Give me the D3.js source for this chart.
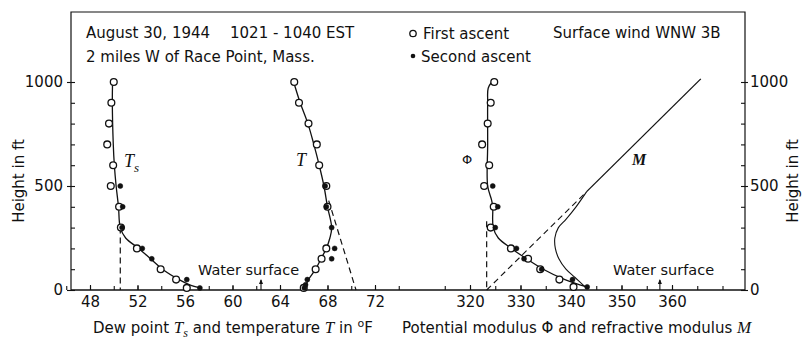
<!DOCTYPE html>
<html><head><meta charset="utf-8">
<script src="https://cdn.jsdelivr.net/npm/d3@7"></script>
<style>
body{margin:0;background:#fff;}
svg text{font-family:"DejaVu Sans",sans-serif;fill:#111;}
.it{font-family:"Liberation Serif",serif;font-style:italic;}
</style></head><body>
<svg id="c" width="802" height="339"></svg>
<script>
// ---- data ----
const heightTicks = [0, 500, 1000];
const heightMinor = [0,100,200,300,400,500,600,700,800,900,1000];
const tempTicks = [48, 52, 56, 60, 64, 68, 72];
const tempMinor = [46,48,50,52,54,56,58,60,62,64,66,68,70,72,74];
const modTicks = [320, 330, 340, 350, 360];
const modMinor = [315,320,325,330,335,340,345,350,355,360,365,370];

// Dew point Ts
const tsFirstH = [1000,900,800,700,600,500,400,300,200,100,50,10];
const tsFirstV = [50.0,49.8,49.6,49.45,49.95,49.75,50.45,50.6,51.95,53.95,55.25,56.15];
const tsSecondH = [500,400,300,200,150,50,10];
const tsSecondV = [50.55,50.75,50.7,52.4,53.2,56.15,57.25];
const tsCurveH = [1000,900,700,600,500,400,300,250,200,150,100,50,25,10];
const tsCurveV = [49.9,49.88,49.96,50.05,50.2,50.4,50.55,51.0,52.1,53.1,54.1,55.5,56.4,57.3];
const tsDashH = [300, 0];
const tsDashV = [50.55, 50.55];

// Temperature T
const tFirstH = [1000,900,800,700,600,500,400,200,150,100,10];
const tFirstV = [65.2,65.6,66.4,67.1,67.3,67.9,68.0,67.9,67.5,67.0,66.0];
const tSecondH = [500,400,300,200,150,50,25,10];
const tSecondV = [67.8,67.9,68.35,68.6,68.35,66.3,66.15,66.05];
const tCurveH = [1000,900,800,700,600,500,400,300,250,200,150,100,50,0];
const tCurveV = [65.15,65.7,66.35,66.85,67.3,67.7,68.0,68.35,68.2,67.9,67.45,67.0,66.4,66.0];
const tDashH = [430, 0];
const tDashV = [68.1, 70.4];

// Potential modulus Phi
const phiFirstH = [1000,900,800,700,600,500,400,300,200,150,100,50,15];
const phiFirstV = [324.8,324.1,323.5,322.4,323.8,322.8,324.7,324.1,328.1,331.5,333.9,337.7,340.5];
const phiSecondH = [500,400,300,200,150,100,50,15];
const phiSecondV = [324.5,325.5,325.0,329.2,330.7,334.2,340.3,343.2];
const phiCurveH = [1000,970,900,700,500,430,400,300,250,200,150,100,50,15];
const phiCurveV = [324.3,323.6,323.5,323.5,323.5,324.3,324.5,324.6,325.6,328.2,331.2,334.5,338.8,343.1];
const phiDashH = [330, 0];
const phiDashV = [323.3, 323.3];

// Refractive modulus M
const mCurveH = [15,60,100,150,200,250,300,340,400,473];
const mCurveV = [342.8,340.8,339.0,337.6,336.9,336.8,337.5,339.0,341.0,343.1];
const mLineH = [473, 1015];
const mLineV = [343.1, 365.7];
const mDashH = [0, 473];
const mDashV = [323.3, 343.1];

const waterTemp = 62.4;
const waterMod = 357.6;

// ---- scales ----
const svg = d3.select("#c");
const L = 71, R = 745, T = 12, B = 290;
const x1 = d3.scaleLinear().domain([48, 72]).range([90, 375]);
const x2 = d3.scaleLinear().domain([320, 360]).range([470, 672]);
const y = d3.scaleLinear().domain([0, 1000]).range([290, 82]);
const ink = "#111";
const fmt = d3.format("d");

// frame
svg.append("path").attr("d", `M${L},${B}V${T}H${R}V${B}`).attr("fill","none").attr("stroke",ink).attr("stroke-width",1.2);
svg.append("path").attr("d", `M${L},${B}H${R}`).attr("stroke",ink).attr("stroke-width",1.4);

function styleAxis(g, fs){
  g.select(".domain").remove();
  g.selectAll("line").attr("stroke", ink).attr("stroke-width",1.1);
  g.selectAll("text").attr("font-size", fs).attr("font-family","DejaVu Sans").attr("fill",ink);
}
// left axis
styleAxis(svg.append("g").attr("transform",`translate(${L},0)`)
  .call(d3.axisLeft(y).tickValues(heightTicks).tickFormat(fmt).tickSize(4).tickPadding(4)), 15);
styleAxis(svg.append("g").attr("transform",`translate(${L},0)`)
  .call(d3.axisRight(y).tickValues(heightMinor).tickSize(4).tickFormat("")), 15);
// right axis
styleAxis(svg.append("g").attr("transform",`translate(${R},0)`)
  .call(d3.axisRight(y).tickValues(heightTicks).tickFormat(fmt).tickSize(3).tickPadding(2)), 15);
styleAxis(svg.append("g").attr("transform",`translate(${R},0)`)
  .call(d3.axisLeft(y).tickValues(heightMinor).tickSize(4).tickFormat("")), 15);
// bottom axes
styleAxis(svg.append("g").attr("transform",`translate(0,${B})`)
  .call(d3.axisBottom(x1).tickValues(tempTicks).tickFormat(fmt).tickSizeInner(-5).tickSizeOuter(0).tickPadding(6)), 15);
styleAxis(svg.append("g").attr("transform",`translate(0,${B})`)
  .call(d3.axisBottom(x1).tickValues(tempMinor).tickSizeInner(-4).tickSizeOuter(0).tickFormat("")), 15);
styleAxis(svg.append("g").attr("transform",`translate(0,${B})`)
  .call(d3.axisBottom(x2).tickValues(modTicks).tickFormat(fmt).tickSizeInner(-5).tickSizeOuter(0).tickPadding(6)), 15);
styleAxis(svg.append("g").attr("transform",`translate(0,${B})`)
  .call(d3.axisBottom(x2).tickValues(modMinor).tickSizeInner(-4).tickSizeOuter(0).tickFormat("")), 15);

// line helpers
function drawLine(xs, hs, vs, opts){
  const pts = hs.map((h,i)=>[vs[i], h]);
  const gen = d3.line().x(d=>xs(d[0])).y(d=>y(d[1]))
    .curve(opts.curve || d3.curveLinear);
  svg.append("path").attr("d", gen(pts)).attr("fill","none")
    .attr("stroke", ink).attr("stroke-width", opts.w || 1.3)
    .attr("stroke-dasharray", opts.dash || null);
}
function drawPts(xs, hs, vs, open){
  svg.append("g").selectAll("circle").data(hs.map((h,i)=>[vs[i],h])).join("circle")
    .attr("cx", d=>xs(d[0])).attr("cy", d=>y(d[1]))
    .attr("r", open ? 3.4 : 2.5)
    .attr("fill", open ? "#fff" : ink)
    .attr("stroke", ink).attr("stroke-width", open ? 1.3 : 0.5);
}
const smooth = d3.curveCatmullRom.alpha(0.5);
drawLine(x1, tsCurveH, tsCurveV, {curve: smooth});
drawLine(x1, tsDashH, tsDashV, {dash:"6,4", w:1.2});
drawLine(x1, tCurveH, tCurveV, {curve: smooth});
drawLine(x1, tDashH, tDashV, {dash:"6,4", w:1.2});
drawLine(x2, phiCurveH, phiCurveV, {curve: smooth});
drawLine(x2, phiDashH, phiDashV, {dash:"6,4", w:1.2});
drawLine(x2, mDashH, mDashV, {dash:"6,4", w:1.1});
drawLine(x2, mCurveH, mCurveV, {curve: smooth, w:1.1});
drawLine(x2, mLineH, mLineV, {w:1.3});

drawPts(x1, tsFirstH, tsFirstV, true);
drawPts(x1, tFirstH, tFirstV, true);
drawPts(x2, phiFirstH, phiFirstV, true);
drawPts(x1, tsSecondH, tsSecondV, false);
drawPts(x1, tSecondH, tSecondV, false);
drawPts(x2, phiSecondH, phiSecondV, false);

// water surface arrows
function arrow(xp){
  svg.append("path").attr("d", `M${xp},${B}V${B-10}`).attr("stroke",ink).attr("stroke-width",1.1);
  svg.append("path").attr("d", `M${xp-2},${B-6}L${xp},${B-11}L${xp+2},${B-6}Z`).attr("fill",ink);
}
arrow(x1(waterTemp));
arrow(x2(waterMod));

// texts
function txt(x, yy, s, fs, anchor){
  return svg.append("text").attr("x",x).attr("y",yy).attr("font-size",fs)
    .attr("text-anchor", anchor||"start").text(s);
}
txt(86, 38, "August 30, 1944", 15);
txt(230, 38, "1021 - 1040  EST", 15);
txt(86, 62, "2 miles W of Race Point, Mass.", 15);
svg.append("circle").attr("cx",413).attr("cy",33.5).attr("r",3.2).attr("fill","#fff").attr("stroke",ink).attr("stroke-width",1.3);
txt(423, 39, "First ascent", 15);
svg.append("circle").attr("cx",413).attr("cy",56).attr("r",2.3).attr("fill",ink);
txt(421, 62, "Second ascent", 15);
txt(553, 38, "Surface wind  WNW 3B", 15);
txt(198, 275, "Water surface", 14.5);
txt(613, 275, "Water surface", 14.5);

// curve labels
const tsl = svg.append("text").attr("x",124).attr("y",167).attr("class","it").attr("font-size",18);
tsl.append("tspan").text("T");
tsl.append("tspan").attr("dy",5).attr("font-size",13).text("s");
svg.append("text").attr("x",296).attr("y",166).attr("class","it").attr("font-size",18).text("T");
svg.append("text").attr("x",632).attr("y",165).attr("class","it").attr("font-size",16).attr("font-weight","bold").text("M");
svg.append("text").attr("x",467).attr("y",164).attr("font-size",13).attr("text-anchor","middle").attr("font-family","Liberation Serif").text("Φ");

// axis titles
const xl = svg.append("text").attr("x",93).attr("y",333).attr("font-size",15);
xl.append("tspan").text("Dew point ");
xl.append("tspan").attr("class","it").attr("font-size",17).text("T");
xl.append("tspan").attr("class","it").attr("font-size",12).attr("dy",4).text("s");
xl.append("tspan").attr("dy",-4).text(" and temperature ");
xl.append("tspan").attr("class","it").attr("font-size",17).text("T");
xl.append("tspan").text(" in ");
xl.append("tspan").attr("font-size",11).attr("dy",-6).text("o");
xl.append("tspan").attr("dy",6).text("F");

const xr = svg.append("text").attr("x",402).attr("y",333).attr("font-size",15);
xr.append("tspan").text("Potential modulus Φ and refractive modulus ");
xr.append("tspan").attr("class","it").attr("font-size",17).text("M");

svg.append("text").attr("transform","translate(24,181) rotate(-90)").attr("text-anchor","middle").attr("font-size",15).text("Height in ft");
svg.append("text").attr("transform","translate(798,181) rotate(-90)").attr("text-anchor","middle").attr("font-size",15).text("Height in ft");
</script></body></html>
